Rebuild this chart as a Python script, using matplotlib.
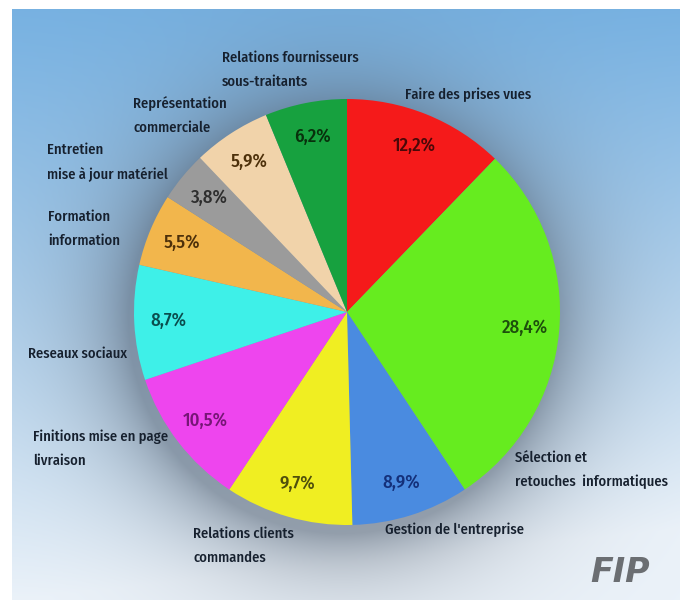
import numpy as np
import matplotlib
matplotlib.use('Agg')
import matplotlib.pyplot as plt

# donnees du camembert (sens horaire depuis le haut)
labels = ["Faire des prises vues", "Sélection et\nretouches  informatiques",
          "Gestion de l'entreprise", "Relations clients\ncommandes",
          "Finitions mise en page\nlivraison", "Reseaux sociaux",
          "Formation\ninformation", "Entretien\nmise à jour matériel",
          "Représentation\ncommerciale", "Relations fournisseurs\nsous-traitants"]
valeurs = [12.2, 28.4, 8.9, 9.7, 10.5, 8.7, 5.5, 3.8, 5.9, 6.2]
couleurs = ['#f51a1a', '#66ec1f', '#4a8be0', '#f0ee22', '#ee45ee',
            '#3ef0e8', '#f2b64c', '#9b9b9b', '#f1d3aa', '#17a13f']
couleurs_pct = ['#4a0808', '#1d4f0c', '#14307a', '#4f4f0c', '#761676',
                '#0a4d4d', '#4d300a', '#2e2e2e', '#4d300a', '#08300c']
# position des etiquettes (pixels, bord gauche / haut)
pos_labels = [(405, 88), (515, 451), (385, 523), (193, 527), (33, 430),
              (28, 347), (48, 210), (47, 143), (133, 96), (222, 51)]

police = ['Fira Sans Condensed', 'DejaVu Sans']
W, H = 680, 603
cx, cy, R = 347, 312, 213

fig = plt.figure(figsize=(W / 100, H / 100), dpi=100)
ax = fig.add_axes([0, 0, 1, 1])

# fond degrade bleu + ombre autour du camembert
x0, x1, y0, y1 = 12, 680, 9, 600
yy, xx = np.mgrid[y0:y1, x0:x1].astype(float)
t = (yy - y0) / (y1 - y0)
haut = np.array([120, 178, 226]) / 255
bas = np.array([236, 243, 250]) / 255
f = np.clip(t ** 1.1 + 0.15 * (xx - x0) / (x1 - x0) * t, 0, 1)[..., None]
img = haut * (1 - f) + bas * f
d = np.hypot(xx - (cx - 6), yy - (cy + 8))
ombre = 0.55 * np.exp(-np.clip(d - R, 0, None) / 50.0)[..., None]
gris = np.array([80, 92, 108]) / 255
img = img * (1 - ombre) + gris * ombre
ax.imshow(img, extent=[x0, x1, y1, y0], zorder=0, interpolation='bilinear')

wedges, textes, autotextes = ax.pie(
    valeurs, colors=couleurs, startangle=-90, counterclock=True,
    center=(cx, cy), radius=R, autopct=lambda p: '',
    pctdistance=0.84, wedgeprops=dict(linewidth=0), frame=True)
ax.set_xlim(0, W)
ax.set_ylim(H, 0)
ax.axis('off')

for at, v, c in zip(autotextes, valeurs, couleurs_pct):
    at.set_text(('%.1f%%' % v).replace('.', ','))
    at.set_color(c)
    at.set_fontsize(13.5)
    at.set_fontfamily(police)
    at.set_fontweight('medium')

for lab, (px, py) in zip(labels, pos_labels):
    ax.text(px, py, lab, ha='left', va='top', fontsize=10.5,
            family=police, color='#16202e', linespacing=1.85,
            fontweight='medium')

ax.text(590, 572, 'FIP', ha='left', va='center', fontsize=24,
        family='DejaVu Sans', fontstyle='italic', fontweight='bold', color='#6b6e72')

fig.savefig('out.png', dpi=100)
